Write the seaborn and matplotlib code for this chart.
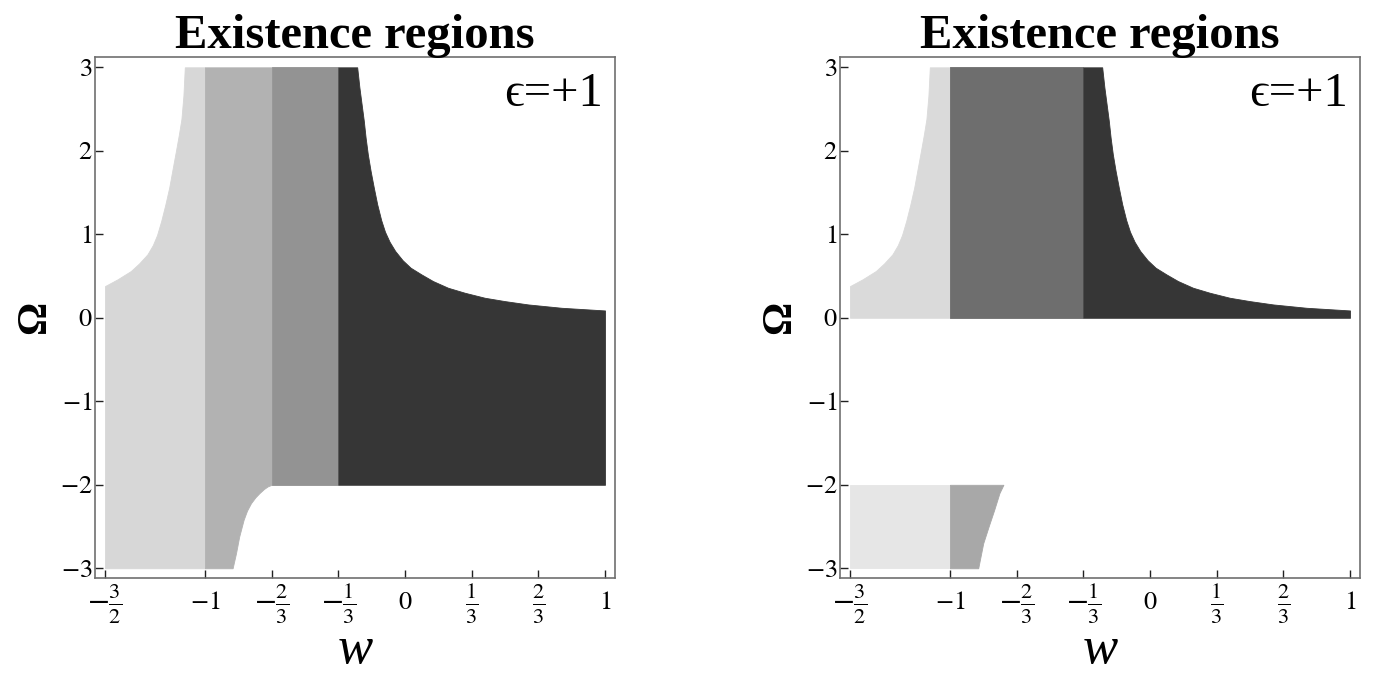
import numpy as np
import seaborn as sns
from matplotlib import pyplot as plt

# boundaries
w_edges = [-1.5, -1.0, -2 / 3, -1 / 3, 1.0]
om_edges = [-3.0, -2.0, 0.0, 3.0]

# upper boundary of the lightest band (w < -1)
light_top_w = [-1.5, -1.438, -1.371, -1.330, -1.288, -1.261, -1.240, -1.219, -1.199,
               -1.179, -1.163, -1.146, -1.131, -1.118, -1.108, -1.101]
light_top_om = [0.38, 0.46, 0.56, 0.65, 0.76, 0.87, 0.99, 1.16, 1.35,
                1.56, 1.77, 1.99, 2.19, 2.38, 2.66, 3.0]

# upper boundary of the dark band (w > -1/3)
hyp_w = [-0.239, -0.228, -0.206, -0.197, -0.186, -0.172, -0.156, -0.139, -0.119, -0.100,
         -0.077, -0.049, -0.012, 0.028, 0.082, 0.140, 0.215, 0.299, 0.399, 0.499, 0.616,
         0.783, 1.0]
hyp_om = [3.0, 2.76, 2.36, 2.16, 1.96, 1.76, 1.56, 1.36, 1.17, 1.03,
          0.91, 0.80, 0.69, 0.60, 0.52, 0.44, 0.36, 0.30, 0.24, 0.20, 0.16,
          0.12, 0.088]

# lower boundary, left panel, between w=-1 and w=-2/3
low_w = [-0.862, -0.845, -0.829, -0.807, -0.790, -0.770, -0.748, -0.728, -0.705, -0.687, -0.667]
low_om = [-3.0, -2.82, -2.62, -2.42, -2.31, -2.22, -2.15, -2.10, -2.05, -2.02, -2.0]

# right edge of the lower patch, right panel
patch_w = [-0.733, -0.753, -0.779, -0.807, -0.834, -0.859]
patch_om = [-2.0, -2.1, -2.3, -2.5, -2.7, -3.0]

xtick_vals = [-1.5, -1.0, -2 / 3, -1 / 3, 0, 1 / 3, 2 / 3, 1.0]
xtick_labels = [r'$-\frac{3}{2}$', r'$-1$', r'$-\frac{2}{3}$', r'$-\frac{1}{3}$',
                r'$0$', r'$\frac{1}{3}$', r'$\frac{2}{3}$', r'$1$']
ytick_vals = [-3, -2, -1, 0, 1, 2, 3]
ytick_labels = [r'$-3$', r'$-2$', r'$-1$', r'$0$', r'$1$', r'$2$', r'$3$']

left_colors = ['#d7d7d7', '#b2b2b2', '#939393', '#363636']
right_colors = ['#dadada', '#6e6e6e', '#363636', '#e6e6e6', '#a8a8a8']

sns.set_theme(style='white')
plt.rcParams['font.family'] = ['Liberation Serif', 'DejaVu Serif']
plt.rcParams['mathtext.fontset'] = 'stix'
plt.rcParams['text.color'] = 'black'
plt.rcParams['axes.labelcolor'] = 'black'
plt.rcParams['xtick.color'] = 'black'
plt.rcParams['ytick.color'] = 'black'

fig = plt.figure(figsize=(13.78, 6.77), dpi=100)
W, H = 1378, 677
ax1 = fig.add_axes([95 / W, 98.7 / H, 520 / W, 521 / H])
ax2 = fig.add_axes([840 / W, 98.7 / H, 520 / W, 521 / H])


def region(ax, x, lo, hi, c, flip=False):
    f = ax.fill_betweenx if flip else ax.fill_between
    f(x, lo, hi, facecolor=c, edgecolor=c, linewidth=0.6)


# left panel
region(ax1, light_top_w + [w_edges[1]], om_edges[0], light_top_om + [om_edges[3]], left_colors[0])
region(ax1, [w_edges[1]] + low_w, [om_edges[0]] + low_om, om_edges[3], left_colors[1])
region(ax1, w_edges[2:4], om_edges[1], om_edges[3], left_colors[2])
region(ax1, [w_edges[3]] + hyp_w, om_edges[1], [om_edges[3]] + hyp_om, left_colors[3])

# right panel
region(ax2, light_top_w + [w_edges[1]], om_edges[2], light_top_om + [om_edges[3]], right_colors[0])
region(ax2, w_edges[1:4:2], om_edges[2], om_edges[3], right_colors[1])
region(ax2, [w_edges[3]] + hyp_w, om_edges[2], [om_edges[3]] + hyp_om, right_colors[2])
region(ax2, w_edges[0:2], om_edges[0], om_edges[1], right_colors[3])
region(ax2, patch_om, w_edges[1], patch_w, right_colors[4], flip=True)

for ax in (ax1, ax2):
    ax.set_xlim(-1.55, 1.05)
    ax.set_ylim(-3.12, 3.12)
    ax.set_xticks(xtick_vals)
    ax.set_xticklabels(xtick_labels, fontsize=19, va='center')
    for lab in ax.get_xticklabels():
        if 'frac' in lab.get_text():
            lab.set_fontsize(23)
    ax.set_yticks(ytick_vals)
    ax.set_yticklabels(ytick_labels, fontsize=19)
    ax.tick_params(axis='x', direction='in', length=6, width=1, color='#222222',
                   pad=18, bottom=True, top=False)
    ax.tick_params(axis='y', direction='in', length=6, width=1, color='#222222',
                   pad=2, left=True, right=False)
    for sp in ax.spines.values():
        sp.set_color('#707070')
        sp.set_linewidth(1.2)
        sp.set_zorder(3)
    ax.set_title('Existence regions', fontsize=35, fontweight='bold', pad=7)
    ax.set_xlabel('w', fontsize=38, fontstyle='italic')
    ax.xaxis.label.set_va('baseline')
    ax.xaxis.set_label_coords(0.5, -0.163)
    ax.set_ylabel('Ω', fontsize=30, fontweight='bold')
    ax.yaxis.label.set_va('baseline')
    ax.yaxis.set_label_coords(-0.096, 0.5)
    ax.text(0.977, 0.907, '\u03f5=+1', transform=ax.transAxes, ha='right',
            va='baseline', fontsize=35)

fig.savefig('out.png', dpi=100)
